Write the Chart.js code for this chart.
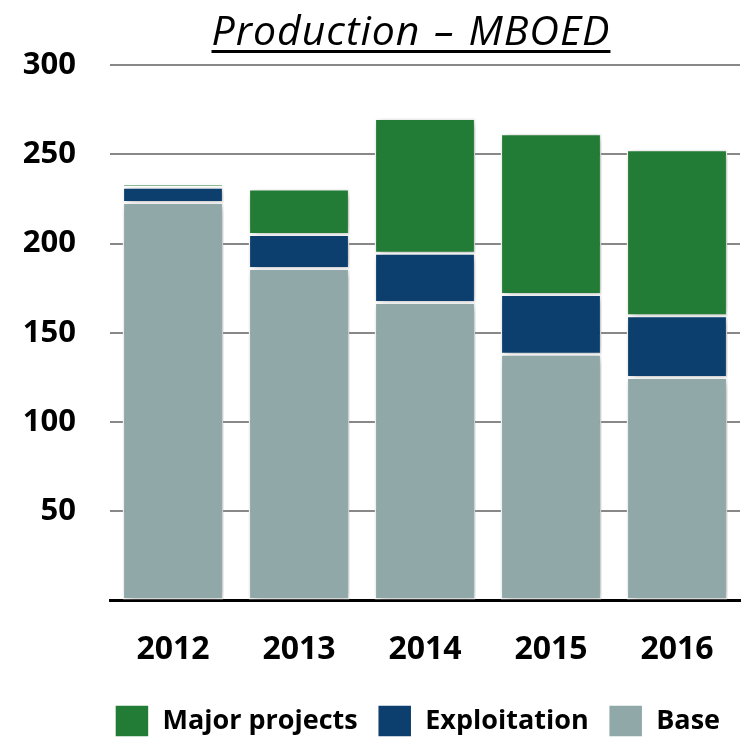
<!DOCTYPE html>
<html>
<head>
<meta charset="utf-8">
<script src="https://cdn.jsdelivr.net/npm/chart.js@4"></script>
<style>
  html, body { margin: 0; padding: 0; background: #fff; }
  #wrap { position: relative; width: 745px; height: 739px; }
  #title {
    position: absolute; left: 0; top: 1px; width: 822px; text-align: center;
    font: italic 41px "Open Sans", sans-serif; color: #000;
    letter-spacing: 1px; word-spacing: 2px;
    text-decoration: underline; text-decoration-thickness: 3px; text-underline-offset: 5px;
  }
  canvas { position: absolute; left: 0; top: 0; }
</style>
</head>
<body>
<div id="wrap">
  <canvas id="prod" width="745" height="739"></canvas>
  <div id="title">Production – MBOED</div>
</div>
<script>
const years = ["2012", "2013", "2014", "2015", "2016"];
const base = [223, 186, 167, 138, 125];
const exploitation = [8.5, 19, 27.5, 33.5, 34.5];
const majorProjects = [2, 25.5, 75.5, 90, 93];

const FONT = "'Open Sans', sans-serif";

// soft shadow behind each bar stack
const barShadow = {
  id: "barShadow",
  beforeDatasetsDraw(chart) {
    const c = chart.ctx;
    c.save();
    c.shadowColor = "rgba(0,0,0,0.28)";
    c.shadowBlur = 9;
    c.shadowOffsetX = 3;
    c.shadowOffsetY = 2;
  },
  afterDatasetsDraw(chart) {
    chart.ctx.restore();
  }
};

function dataset(label, data, color) {
  return {
    label, data,
    backgroundColor: color,
    borderColor: "#ffffff",
    borderWidth: 1.5,
    borderSkipped: false,
    barPercentage: 0.8,
    categoryPercentage: 1.0
  };
}

new Chart(document.getElementById("prod"), {
  type: "bar",
  data: {
    labels: years,
    datasets: [
      dataset("Base", base, "#91a8a9"),
      dataset("Exploitation", exploitation, "#0c3f6e"),
      dataset("Major projects", majorProjects, "#237c36")
    ]
  },
  plugins: [barShadow],
  options: {
    responsive: false,
    animation: false,
    layout: { padding: { top: 65, right: 5, left: 22, bottom: -8 } },
    plugins: {
      tooltip: { enabled: false },
      legend: {
        position: "bottom",
        align: "end",
        reverse: true,
        labels: {
          color: "#000",
          boxWidth: 34,
          boxHeight: 32,
          padding: 20,
          font: { family: FONT, size: 27, weight: "bold" }
        }
      }
    },
    scales: {
      x: {
        stacked: true,
        grid: { display: false, drawTicks: false },
        border: { display: true, color: "#000", width: 3 },
        ticks: {
          color: "#000",
          padding: 30,
          font: { family: FONT, size: 32, weight: "bold" }
        },
        afterFit: s => { s.height -= 14; }
      },
      y: {
        stacked: true,
        min: 0,
        max: 300,
        border: { display: false },
        grid: {
          drawTicks: false,
          lineWidth: 2,
          color: c => c.tick && c.tick.value === 0 ? "rgba(0,0,0,0)" : "#888888"
        },
        ticks: {
          stepSize: 50,
          color: "#000",
          padding: 34,
          font: { family: FONT, size: 31, weight: "bold" },
          callback: v => v === 0 ? "" : v
        },
        afterFit: s => { s.width = 88; }
      }
    }
  }
});
</script>
</body>
</html>
